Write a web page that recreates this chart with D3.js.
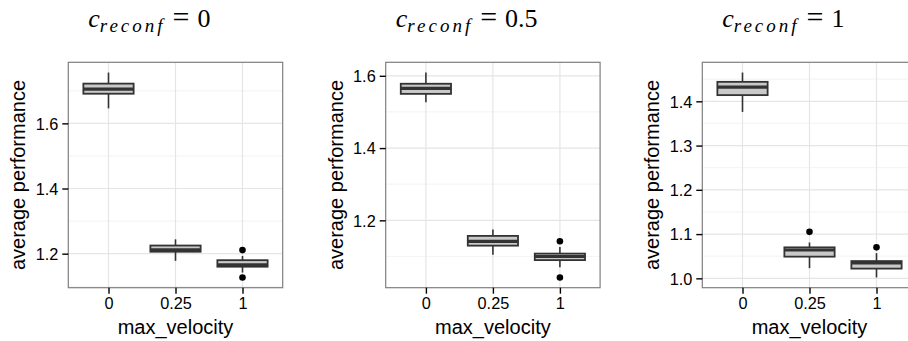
<!DOCTYPE html>
<html>
<head>
<meta charset="utf-8">
<script src="https://cdn.jsdelivr.net/npm/d3@7"></script>
<style>
body { margin: 0; background: #fff; }
svg { display: block; }
</style>
</head>
<body>
<div id="main_div"></div>
<script>
// categories on the x axis
var categories = ["0", "0.25", "1"];
var reconf = ["0", "0.5", "1"];

// box stats per panel: [lower whisker, q1, median, q3, upper whisker]
var stats_0 = [[1.646, 1.691, 1.705, 1.722, 1.756], [1.178, 1.206, 1.212, 1.225, 1.244], [1.142, 1.160, 1.166, 1.180, 1.193]];
var stats_05 = [[1.527, 1.550, 1.565, 1.578, 1.609], [1.105, 1.130, 1.142, 1.157, 1.175], [1.070, 1.090, 1.100, 1.108, 1.126]];
var stats_1 = [[1.376, 1.414, 1.432, 1.444, 1.465], [1.023, 1.049, 1.064, 1.070, 1.081], [1.002, 1.022, 1.035, 1.039, 1.057]];

// outliers per panel: [category, value]
var out_0 = [["1", 1.211], ["1", 1.127]];
var out_05 = [["1", 1.142], ["1", 1.042]];
var out_1 = [["0.25", 1.105], ["1", 1.070]];

// tick values
var ticks_0 = [1.2, 1.4, 1.6];
var ticks_05 = [1.2, 1.4, 1.6];
var ticks_1 = [1.0, 1.1, 1.2, 1.3, 1.4];
var minor_0 = [1.1, 1.3, 1.5, 1.7];
var minor_05 = [1.1, 1.3, 1.5];
var minor_1 = [1.05, 1.15, 1.25, 1.35, 1.45];

var panels = [
    {label: reconf[0], stats: stats_0, out: out_0, ticks: ticks_0, minor: minor_0},
    {label: reconf[1], stats: stats_05, out: out_05, ticks: ticks_05, minor: minor_05},
    {label: reconf[2], stats: stats_1, out: out_1, ticks: ticks_1, minor: minor_1}
];

var W = 908, H = 341;
var pw = 214.4, ph = 225.4, plotTop = 62.3;
var lefts = [68.3, 385.7, 702.3];
var sans = "'Liberation Sans', Arial, Helvetica, sans-serif";
var serif = "'Liberation Serif', 'Times New Roman', serif";

var svg = d3.select("#main_div").append("svg").attr("width", W).attr("height", H);

panels.forEach(function(p, k) {
    var left = lefts[k];
    var g = svg.append("g").attr("transform", "translate(" + left + "," + plotTop + ")");

    var x_scale = d3.scalePoint().domain(categories).range([0, pw]).padding(0.6);
    var lo = d3.min(p.stats, function(d) { return d[0]; });
    var hi = d3.max(p.stats, function(d) { return d[4]; });
    p.out.forEach(function(o) { lo = Math.min(lo, o[1]); hi = Math.max(hi, o[1]); });
    var pad = (hi - lo) * 0.05;
    var y_scale = d3.scaleLinear().domain([lo - pad, hi + pad]).range([ph, 0]);
    var bw = x_scale.step() * 0.75;

    // background grid
    g.append("rect").attr("width", pw).attr("height", ph).attr("fill", "#fff");
    g.selectAll(".minor").data(p.minor).enter().append("line")
        .attr("x1", 0).attr("x2", pw)
        .attr("y1", function(d) { return y_scale(d); }).attr("y2", function(d) { return y_scale(d); })
        .attr("stroke", "#f5f5f5").attr("stroke-width", 1.2);
    g.selectAll(".major").data(p.ticks).enter().append("line")
        .attr("x1", 0).attr("x2", pw)
        .attr("y1", function(d) { return y_scale(d); }).attr("y2", function(d) { return y_scale(d); })
        .attr("stroke", "#e5e5e5").attr("stroke-width", 1.2);
    g.selectAll(".vgrid").data(categories).enter().append("line")
        .attr("y1", 0).attr("y2", ph)
        .attr("x1", function(d) { return x_scale(d); }).attr("x2", function(d) { return x_scale(d); })
        .attr("stroke", "#e5e5e5").attr("stroke-width", 1.2);

    // boxes
    var boxes = g.selectAll(".box").data(p.stats).enter().append("g").attr("class", "box");
    boxes.append("line")
        .attr("x1", function(d, i) { return x_scale(categories[i]); })
        .attr("x2", function(d, i) { return x_scale(categories[i]); })
        .attr("y1", function(d) { return y_scale(d[0]); })
        .attr("y2", function(d) { return y_scale(d[4]); })
        .attr("stroke", "#333").attr("stroke-width", 1.6);
    boxes.append("rect")
        .attr("x", function(d, i) { return x_scale(categories[i]) - bw / 2; })
        .attr("y", function(d) { return y_scale(d[3]); })
        .attr("width", bw)
        .attr("height", function(d) { return y_scale(d[1]) - y_scale(d[3]); })
        .attr("fill", "#c9c9c9").attr("stroke", "#333").attr("stroke-width", 1.8);
    boxes.append("line")
        .attr("x1", function(d, i) { return x_scale(categories[i]) - bw / 2; })
        .attr("x2", function(d, i) { return x_scale(categories[i]) + bw / 2; })
        .attr("y1", function(d) { return y_scale(d[2]); })
        .attr("y2", function(d) { return y_scale(d[2]); })
        .attr("stroke", "#333").attr("stroke-width", 3.2);

    g.selectAll(".out").data(p.out).enter().append("circle")
        .attr("cx", function(d) { return x_scale(d[0]); })
        .attr("cy", function(d) { return y_scale(d[1]); })
        .attr("r", 3.3).attr("fill", "#000");

    // panel border
    g.append("rect").attr("width", pw).attr("height", ph)
        .attr("fill", "none").attr("stroke", "#7f7f7f").attr("stroke-width", 1.2);

    // axes
    var ya = g.append("g").call(d3.axisLeft(y_scale).tickValues(p.ticks).tickFormat(d3.format(".1f")).tickSize(6).tickPadding(4));
    var xa = g.append("g").attr("transform", "translate(0," + ph + ")")
        .call(d3.axisBottom(x_scale).tickSize(6).tickPadding(4));
    [ya, xa].forEach(function(a) {
        a.select(".domain").remove();
        a.selectAll("line").attr("stroke", "#000").attr("stroke-width", 1.4);
        a.selectAll("text").style("font-family", sans)
            .attr("font-size", 16.3).attr("fill", "#000");
    });
    ya.selectAll("text").attr("dy", "0.36em");

    // axis titles
    g.append("text").attr("x", pw / 2).attr("y", ph + 46)
        .attr("text-anchor", "middle")
        .style("font-family", sans).attr("font-size", 20)
        .text("max_velocity");
    g.append("text").attr("transform", "translate(-43," + (ph / 2) + ") rotate(-90)")
        .attr("text-anchor", "middle")
        .style("font-family", sans).attr("font-size", 20)
        .text("average performance");

    // title c_reconf = value
    var t = svg.append("text").attr("x", left + 81).attr("y", 26.5)
        .attr("text-anchor", "middle")
        .style("font-family", serif).attr("font-size", 26);
    t.append("tspan").attr("font-style", "italic").text("c");
    t.append("tspan").attr("font-style", "italic").attr("font-size", 19)
        .attr("dy", 5).attr("letter-spacing", 3).text("reconf");
    t.append("tspan").attr("dy", -5).attr("dx", 7).attr("font-size", 30).text("=");
    t.append("tspan").attr("dx", 8).text(p.label);
});
</script>
</body>
</html>
